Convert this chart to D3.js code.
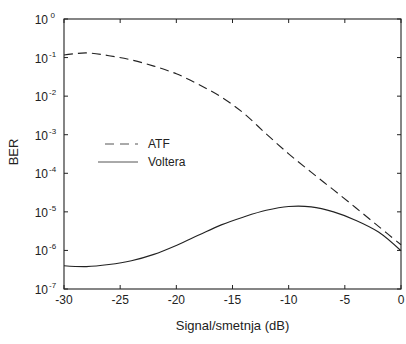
<!DOCTYPE html>
<html>
<head>
<meta charset="utf-8">
<script src="https://cdn.jsdelivr.net/npm/d3@7"></script>
<style>
  html, body { margin: 0; padding: 0; background: #fff; }
  svg { display: block; }
  text { font-family: "Liberation Sans", Arial, sans-serif; fill: #222; }
</style>
</head>
<body>
<svg id="chart" width="406" height="344"></svg>
<script>
// ---- data ----
const snr = [-30, -28, -26, -24, -22, -20, -18, -16, -14, -12, -10, -8, -6, -4, -2, 0];
const berATF = [1.17e-1, 1.32e-1, 1.12e-1, 8.7e-2, 6.0e-2, 3.8e-2, 2.0e-2, 9.5e-3, 3.6e-3, 1.05e-3, 3.2e-4, 1.07e-4, 3.7e-5, 1.26e-5, 4.2e-6, 1.4e-6];
const berVoltera = [4.0e-7, 3.8e-7, 4.3e-7, 5.4e-7, 7.9e-7, 1.35e-6, 2.5e-6, 4.6e-6, 7.4e-6, 1.1e-5, 1.38e-5, 1.35e-5, 1.0e-5, 6.0e-6, 3.0e-6, 9.8e-7];
const xTicks = [-30, -25, -20, -15, -10, -5, 0];
const yTickExps = [0, -1, -2, -3, -4, -5, -6, -7];
const seriesNames = ["ATF", "Voltera"];
const xTitle = "Signal/smetnja (dB)";
const yTitle = "BER";

// ---- layout ----
const svg = d3.select("#chart");
const L = 64, R = 401, T = 19, B = 289;
const x = d3.scaleLinear().domain([-30, 0]).range([L, R]);
const y = d3.scaleLog().domain([1e-7, 1]).range([B, T]);
const ink = "#222";

// frame
svg.append("rect").attr("x", L).attr("y", T).attr("width", R - L).attr("height", B - T)
  .attr("fill", "none").attr("stroke", ink).attr("stroke-width", 1.1);

// inward ticks on all sides
const tl = 4;
const g = svg.append("g").attr("stroke", ink).attr("stroke-width", 1);
xTicks.forEach(t => {
  g.append("line").attr("x1", x(t)).attr("x2", x(t)).attr("y1", B).attr("y2", B - tl);
  g.append("line").attr("x1", x(t)).attr("x2", x(t)).attr("y1", T).attr("y2", T + tl);
});
yTickExps.forEach(e => {
  const yy = y(Math.pow(10, e));
  g.append("line").attr("x1", L).attr("x2", L + tl).attr("y1", yy).attr("y2", yy);
  g.append("line").attr("x1", R).attr("x2", R - tl).attr("y1", yy).attr("y2", yy);
});

// x tick labels
xTicks.forEach(t => {
  svg.append("text").attr("x", x(t)).attr("y", B + 15).attr("text-anchor", "middle")
    .attr("font-size", 12).text(t);
});

// y tick labels: 10^e
yTickExps.forEach(e => {
  const yy = y(Math.pow(10, e));
  svg.append("text").attr("x", 48).attr("y", yy + 5).attr("text-anchor", "end")
    .attr("font-size", 12).text("10");
  svg.append("text").attr("x", 49).attr("y", yy - 1).attr("font-size", 8)
    .text(e === 0 ? "\u20090" : String(e));
});

// axis titles
svg.append("text").attr("x", (L + R) / 2).attr("y", 330).attr("text-anchor", "middle")
  .attr("font-size", 13).text(xTitle);
svg.append("text").attr("transform", "translate(18,152) rotate(-90)").attr("text-anchor", "middle")
  .attr("font-size", 13).text(yTitle);

// lines
const line = d3.line().x(d => x(d[0])).y(d => y(d[1])).curve(d3.curveCatmullRom);
svg.append("path").datum(d3.zip(snr, berATF)).attr("d", line)
  .attr("fill", "none").attr("stroke", ink).attr("stroke-width", 1.1).attr("stroke-dasharray", "9,5");
svg.append("path").datum(d3.zip(snr, berVoltera)).attr("d", line)
  .attr("fill", "none").attr("stroke", ink).attr("stroke-width", 1.1);

// legend
const lg = svg.append("g");
lg.append("line").attr("x1", 105).attr("x2", 138).attr("y1", 144).attr("y2", 144)
  .attr("stroke", "#555").attr("stroke-width", 1).attr("stroke-dasharray", "9,6");
lg.append("text").attr("x", 148).attr("y", 148).attr("font-size", 12).text(seriesNames[0]);
lg.append("line").attr("x1", 98).attr("x2", 138).attr("y1", 162).attr("y2", 162)
  .attr("stroke", "#555").attr("stroke-width", 1);
lg.append("text").attr("x", 148).attr("y", 166).attr("font-size", 12).text(seriesNames[1]);
</script>
</body>
</html>
